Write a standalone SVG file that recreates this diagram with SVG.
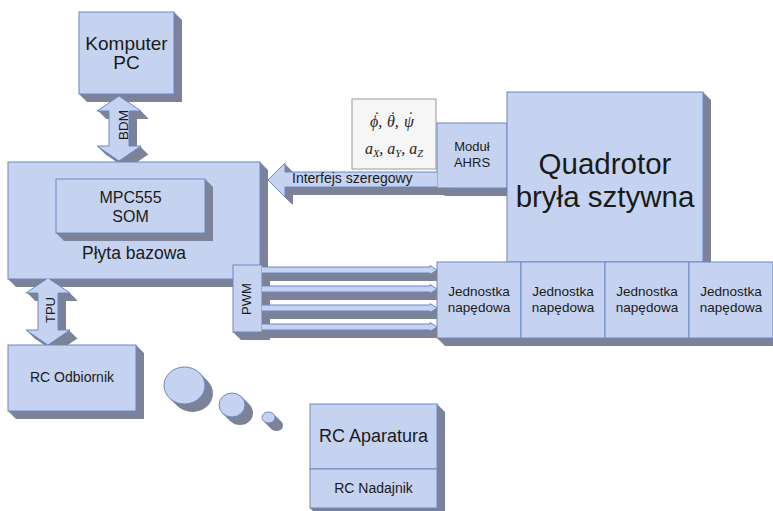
<svg xmlns="http://www.w3.org/2000/svg" xmlns:xlink="http://www.w3.org/1999/xlink" width="773" height="511" viewBox="0 0 773 511">
<style>
.f{fill:#c6d3f0;stroke:#6a88c4;stroke-width:1}
.x{fill:#7c8398}
.t{font-family:"Liberation Sans",Arial,sans-serif;fill:#1a1a1a;text-anchor:middle}
.m{font-family:"Liberation Serif","Times New Roman",serif;font-style:italic;font-size:16px;fill:#222}
.dd{font-style:normal}
.s{font-size:10.5px}
.mb{fill:#f6f6f6;stroke:#9a9a9a;stroke-width:1}
</style>
<defs>
<polygon id="bdm" points="119,96 141,111 129,111 129,146 141,146 119,161 97,146 109,146 109,111 97,111"/>
<polygon id="tpu" points="48,278 70,293 58,293 58,330 70,330 48,345 26,330 38,330 38,293 26,293"/>
<polygon id="ser" points="268,180 285,163 285,172 445,172 445,187 285,187 285,197"/>
<polygon id="pwm" points="254,0 430,0 430,-1.5 437,3 430,7.5 430,6 254,6"/>
<ellipse id="b1" cx="184.5" cy="385.5" rx="20.5" ry="18.5"/>
<ellipse id="b2" cx="232" cy="405" rx="13" ry="12"/>
<ellipse id="b3" cx="268.5" cy="417.5" rx="6.5" ry="5.5"/>
<clipPath id="cc"><path clip-rule="evenodd" d="M0 0H773V511H0Z M8 162H260V265H8Z M8 265H233V279H8Z M233 265H262V332H233Z M8 345H136V411H8Z M437 123H507V188H437Z M437 262H773V338H437Z"/></clipPath>
</defs>

<g id="komputer">
<polygon class="x" points="174,12 182,20 182,102 87,102 79,94 174,94"/>
<rect class="f" x="79" y="12" width="95" height="82"/>
<text class="t" x="126.5" y="50" font-size="19">Komputer</text>
<text class="t" x="126.5" y="69" font-size="19">PC</text>
</g>

<g id="plyta">
<polygon class="x" points="260,162 268,170 268,287 16,287 8,279 260,279"/>
<rect class="f" x="8" y="162" width="252" height="117"/>
<text class="t" x="134" y="259" font-size="17.5">Płyta bazowa</text>
</g>

<g id="mpc555">
<polygon class="x" points="205,179 213,187 213,241 64,241 56,233 205,233"/>
<rect class="f" x="56" y="179" width="149" height="54"/>
<text class="t" x="130.5" y="203" font-size="16">MPC555</text>
<text class="t" x="130.5" y="222" font-size="16">SOM</text>
</g>

<g id="math">
<rect class="mb" x="352" y="99" width="84" height="70"/>
<text class="m" y="127"><tspan x="370">ϕ,</tspan><tspan class="dd" x="374.3" dy="-4">˙</tspan><tspan x="387" dy="4">θ,</tspan><tspan class="dd" x="390.3" dy="-4">˙</tspan><tspan x="404" dy="4">ψ</tspan><tspan class="dd" x="408.3" dy="-4">˙</tspan></text>
<text class="m" y="154" x="394" text-anchor="middle">a<tspan class="s" dy="3">X</tspan><tspan dy="-3">, a</tspan><tspan class="s" dy="3">Y</tspan><tspan dy="-3">, a</tspan><tspan class="s" dy="3">Z</tspan></text>
</g>

<g id="ahrs">
<polygon class="x" points="507,123 515,131 515,196 445,196 437,188 507,188"/>
<rect class="f" x="437" y="123" width="70" height="65"/>
<text class="t" x="472" y="151" font-size="13">Moduł</text>
<text class="t" x="472" y="166.5" font-size="13">AHRS</text>
</g>

<g id="quadrotor">
<polygon class="x" points="703,92 711,100 711,270 515,270 507,262 703,262"/>
<rect class="f" x="507" y="92" width="196" height="170"/>
<text class="t" x="605" y="174" font-size="29.5">Quadrotor</text>
<text class="t" x="605" y="207" font-size="29.5">bryła sztywna</text>
</g>

<g id="pwm-box">
<polygon class="x" points="262,265 270,273 270,340 241,340 233,332 262,332"/>
<rect class="f" x="233" y="265" width="29" height="67"/>
<text class="t" font-size="13" transform="translate(251,299) rotate(-90)">PWM</text>
</g>

<g id="naped1">
<polygon class="x" points="521,262 529,270 529,346 445,346 437,338 521,338"/>
<rect class="f" x="437" y="262" width="84" height="76"/>
<text class="t" x="479" y="296" font-size="13.5">Jednostka</text>
<text class="t" x="479" y="312" font-size="13.5">napędowa</text>
</g>
<g id="naped2">
<polygon class="x" points="605,262 613,270 613,346 529,346 521,338 605,338"/>
<rect class="f" x="521" y="262" width="84" height="76"/>
<text class="t" x="563" y="296" font-size="13.5">Jednostka</text>
<text class="t" x="563" y="312" font-size="13.5">napędowa</text>
</g>
<g id="naped3">
<polygon class="x" points="689,262 697,270 697,346 613,346 605,338 689,338"/>
<rect class="f" x="605" y="262" width="84" height="76"/>
<text class="t" x="647" y="296" font-size="13.5">Jednostka</text>
<text class="t" x="647" y="312" font-size="13.5">napędowa</text>
</g>
<g id="naped4">
<polygon class="x" points="773,262 781,270 781,346 697,346 689,338 773,338"/>
<rect class="f" x="689" y="262" width="84" height="76"/>
<text class="t" x="731" y="296" font-size="13.5">Jednostka</text>
<text class="t" x="731" y="312" font-size="13.5">napędowa</text>
</g>

<g id="rc-odbiornik">
<polygon class="x" points="136,345 144,353 144,419 16,419 8,411 136,411"/>
<rect class="f" x="8" y="345" width="128" height="66"/>
<text class="t" x="72" y="382" font-size="14">RC Odbiornik</text>
</g>

<g id="rc-aparatura">
<polygon class="x" points="437,404 445,412 445,516 318,516 310,508 437,508"/>
<rect class="f" x="310" y="404" width="127" height="65"/>
<rect class="f" x="310" y="469" width="127" height="39"/>
<text class="t" x="373.5" y="442" font-size="18">RC Aparatura</text>
<text class="t" x="373.5" y="493" font-size="14">RC Nadajnik</text>
</g>

<g id="bubbles">
<g class="x">
<use href="#b1" x="1" y="1"/><use href="#b1" x="2" y="2"/><use href="#b1" x="3" y="3"/><use href="#b1" x="4" y="4"/><use href="#b1" x="5" y="5"/><use href="#b1" x="6" y="6"/><use href="#b1" x="7" y="7"/><use href="#b1" x="8" y="8"/>
<use href="#b2" x="1" y="1"/><use href="#b2" x="2" y="2"/><use href="#b2" x="3" y="3"/><use href="#b2" x="4" y="4"/><use href="#b2" x="5" y="5"/><use href="#b2" x="6" y="6"/><use href="#b2" x="7" y="7"/><use href="#b2" x="8" y="8"/>
<use href="#b3" x="1" y="1"/><use href="#b3" x="2" y="2"/><use href="#b3" x="3" y="3"/><use href="#b3" x="4" y="4"/><use href="#b3" x="5" y="5"/><use href="#b3" x="6" y="6"/><use href="#b3" x="7" y="7"/><use href="#b3" x="8" y="8"/>
</g>
<use class="f" href="#b1"/><use class="f" href="#b2"/><use class="f" href="#b3"/>
</g>

<g id="connectors" clip-path="url(#cc)">
<g class="x">
<use href="#bdm" x="1" y="1"/><use href="#bdm" x="2" y="2"/><use href="#bdm" x="3" y="3"/><use href="#bdm" x="4" y="4"/><use href="#bdm" x="5" y="5"/><use href="#bdm" x="6" y="6"/><use href="#bdm" x="7" y="7"/><use href="#bdm" x="8" y="8"/>
<use href="#tpu" x="1" y="1"/><use href="#tpu" x="2" y="2"/><use href="#tpu" x="3" y="3"/><use href="#tpu" x="4" y="4"/><use href="#tpu" x="5" y="5"/><use href="#tpu" x="6" y="6"/><use href="#tpu" x="7" y="7"/><use href="#tpu" x="8" y="8"/>
<use href="#ser" x="1" y="1"/><use href="#ser" x="2" y="2"/><use href="#ser" x="3" y="3"/><use href="#ser" x="4" y="4"/><use href="#ser" x="5" y="5"/><use href="#ser" x="6" y="6"/><use href="#ser" x="7" y="7"/><use href="#ser" x="8" y="8"/>
<use href="#pwm" x="1" y="268"/><use href="#pwm" x="2" y="269"/><use href="#pwm" x="3" y="270"/><use href="#pwm" x="4" y="271"/><use href="#pwm" x="5" y="272"/><use href="#pwm" x="6" y="273"/><use href="#pwm" x="7" y="274"/><use href="#pwm" x="8" y="275"/>
<use href="#pwm" x="1" y="287"/><use href="#pwm" x="2" y="288"/><use href="#pwm" x="3" y="289"/><use href="#pwm" x="4" y="290"/><use href="#pwm" x="5" y="291"/><use href="#pwm" x="6" y="292"/><use href="#pwm" x="7" y="293"/><use href="#pwm" x="8" y="294"/>
<use href="#pwm" x="1" y="306"/><use href="#pwm" x="2" y="307"/><use href="#pwm" x="3" y="308"/><use href="#pwm" x="4" y="309"/><use href="#pwm" x="5" y="310"/><use href="#pwm" x="6" y="311"/><use href="#pwm" x="7" y="312"/><use href="#pwm" x="8" y="313"/>
<use href="#pwm" x="1" y="325"/><use href="#pwm" x="2" y="326"/><use href="#pwm" x="3" y="327"/><use href="#pwm" x="4" y="328"/><use href="#pwm" x="5" y="329"/><use href="#pwm" x="6" y="330"/><use href="#pwm" x="7" y="331"/><use href="#pwm" x="8" y="332"/>
</g>
<use class="f" href="#bdm"/>
<use class="f" href="#tpu"/>
<use class="f" href="#ser"/>
<use class="f" href="#pwm" y="267"/>
<use class="f" href="#pwm" y="286"/>
<use class="f" href="#pwm" y="305"/>
<use class="f" href="#pwm" y="324"/>
<text class="t" font-size="13.5" transform="translate(128,125) rotate(-90)">BDM</text>
<text class="t" font-size="13" transform="translate(55,310) rotate(-90)">TPU</text>
<text x="292" y="183" font-size="14" font-family="Liberation Sans, Arial, sans-serif" fill="#1a1a1a">Interfejs szeregowy</text>
</g>
</svg>
